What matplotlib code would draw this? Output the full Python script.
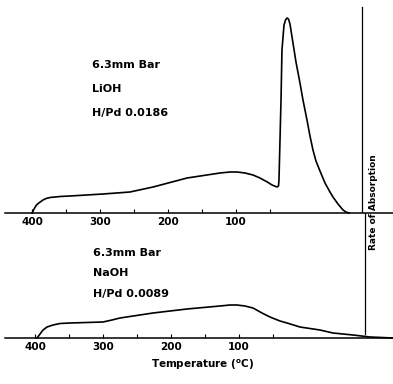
import matplotlib
matplotlib.use("Agg")
import matplotlib.pyplot as plt
from matplotlib.ticker import FixedLocator

# LiOH run (upper trace): temperature (C) and rate of absorption (arb. units)
lioh_temp = [400, 397, 394, 391, 388, 383.8, 379.4, 373.5, 358.8, 344, 295.6, 256,
             222, 172, 123.5, 108.8, 98.5, 86.8, 75, 64.7, 54, 47, 39.7, 37.5,
             36.8, 33.8, 32.4, 29.4, 27.2, 25, 22.8, 20.6, 16.2, 11.8, 5.9, 1.5,
             -4.4, -8.8, -13.2, -17.6, -23.5, -30.9, -38.2, -42.6, -50, -57.4,
             -61.8, -66.2]
lioh_rate = [0, 4, 7.5, 9.5, 11, 13, 14.5, 15.5, 16.5, 17, 19, 21,
             26, 35, 40, 41, 41, 40, 38, 35, 31, 28, 26, 27,
             33, 113, 163, 188, 193, 195, 194, 189, 170, 151, 130, 113,
             93, 77, 63, 52, 42, 30, 21, 16, 9, 3,
             1, 0]

# NaOH run (lower trace)
naoh_temp = [397, 392.6, 388.2, 382.4, 373.5, 363.2, 348.5, 300, 286.8, 275,
             226.5, 176.5, 128, 113.2, 103, 91.2, 79.4, 66.2, 54.4, 39.7, 29.4,
             10.3, -19, -38.2, -67.6, -92.6, -126.5]
naoh_rate = [0, 4, 8, 11, 13, 14.5, 15, 16, 18, 20,
             25, 29, 32, 33, 33, 32, 30, 25, 21, 17, 15,
             11, 8, 5, 3, 1, 0]

major_ticks = [400, 300, 200, 100]
minor_ticks = [350, 250, 150, 50]
tick_labels = ["400", "300", "200", "100"]

lioh_text = ["6.3mm Bar", "LiOH", "H/Pd 0.0186"]
naoh_text = ["6.3mm Bar", "NaOH", "H/Pd 0.0089"]
rate_axis_temp = -85

W, H = 393, 384
fig = plt.figure(figsize=(W / 100, H / 100), dpi=100)

ax_top = fig.add_axes([0, (H - 213) / H, 1, 213 / H])
ax_bot = fig.add_axes([0, (H - 338) / H, 1, 125 / H])

ax_top.set_xlim(447.1, -130.9)
ax_top.set_ylim(0, 213)
ax_bot.set_xlim(451.5, -126.5)
ax_bot.set_ylim(0, 125)

ax_top.plot(lioh_temp, lioh_rate, color="black", lw=1.2, clip_on=False,
            solid_joinstyle="round")
ax_bot.plot(naoh_temp, naoh_rate, color="black", lw=1.2, clip_on=False,
            solid_joinstyle="round")

for ax, left in [(ax_top, 439.7), (ax_bot, 443.9)]:
    ax.patch.set_visible(False)
    for s in ["top", "left", "right"]:
        ax.spines[s].set_visible(False)
    ax.spines["bottom"].set_linewidth(1.1)
    ax.spines["bottom"].set_bounds(left, ax.get_xlim()[1])
    ax.xaxis.set_major_locator(FixedLocator(major_ticks))
    ax.xaxis.set_minor_locator(FixedLocator(minor_ticks))
    ax.set_xticklabels(tick_labels)
    ax.tick_params(axis="x", which="both", direction="in", length=3, width=0.8, pad=3,
                   labelsize=7.5)
    for lab in ax.get_xticklabels():
        lab.set_fontweight("bold")
    ax.set_yticks([])

ax_top.axvline(rate_axis_temp, ymin=0, ymax=0.967, color="black", lw=0.9)
ax_bot.axvline(rate_axis_temp, ymin=0.03, ymax=1, color="black", lw=0.9)

for i, t in enumerate(lioh_text):
    fig.text(92 / W, 1 - (65 + 24 * i) / H, t, fontsize=8, fontweight="bold", va="center")
for i, t in enumerate(naoh_text):
    fig.text(93 / W, 1 - (253 + 20.5 * i) / H, t, fontsize=8, fontweight="bold", va="center")

fig.text(373 / W, 1 - 202 / H, "Rate of Absorption", rotation=90, fontsize=6.5,
         fontweight="bold", ha="center", va="center")
fig.text(203 / W, 1 - 365 / H, "Temperature ($^{\\mathbf{o}}$C)", fontsize=7.5,
         fontweight="bold", ha="center", va="center")

fig.savefig("out.png", dpi=100)
